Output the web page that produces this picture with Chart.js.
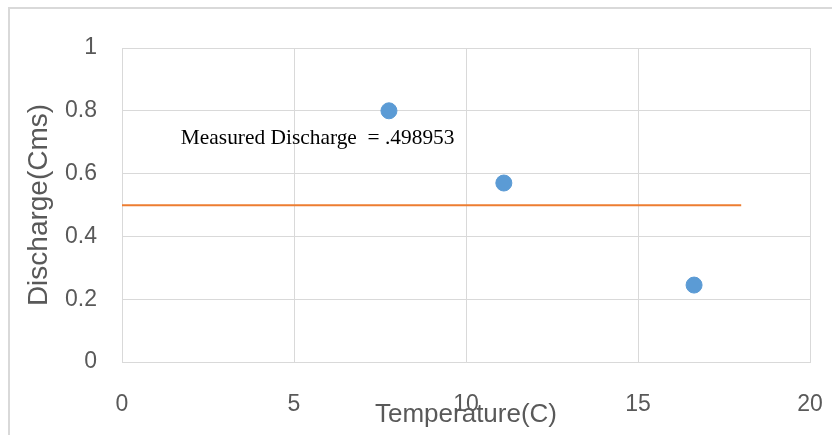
<!DOCTYPE html>
<html>
<head>
<meta charset="utf-8">
<script src="https://cdn.jsdelivr.net/npm/chart.js@4/dist/chart.umd.min.js"></script>
<style>
  html, body { margin: 0; padding: 0; background: #ffffff; }
  #wrap { width: 832px; height: 435px; }
</style>
</head>
<body>
<div id="wrap"><canvas id="c" width="832" height="435"></canvas></div>
<script>
// ---- data ----
const temperatures = [7.76, 11.1, 16.63];
const discharges = [0.80, 0.57, 0.245];
const measuredDischarge = 0.498953;
const measuredLineX = [0, 18];
const xTickValues = [0, 5, 10, 15, 20];
const yTickValues = [0, 0.2, 0.4, 0.6, 0.8, 1];
const xTitle = 'Temperature(C)';
const yTitle = 'Discharge(Cms)';
const annotationText = 'Measured Discharge  = .498953';
const annotationPos = { x: 1.71, y: 0.713 };

const pointData = temperatures.map((t, i) => ({ x: t, y: discharges[i] }));
const lineData = measuredLineX.map(x => ({ x: x, y: measuredDischarge }));

const gridColor = '#d9d9d9';
const tickColor = '#595959';

const framePlugin = {
  id: 'frame',
  beforeDraw(chart) {
    const ctx = chart.ctx;
    ctx.save();
    ctx.fillStyle = '#ffffff';
    ctx.fillRect(0, 0, chart.width, chart.height);
    ctx.strokeStyle = '#d9d9d9';
    ctx.lineWidth = 2;
    ctx.beginPath();
    ctx.moveTo(9, 440);
    ctx.lineTo(9, 8);
    ctx.lineTo(840, 8);
    ctx.stroke();
    ctx.restore();
  }
};

const annotationPlugin = {
  id: 'annot',
  afterDatasetsDraw(chart) {
    const ctx = chart.ctx;
    const xs = chart.scales.x, ys = chart.scales.y;
    ctx.save();
    ctx.fillStyle = '#000000';
    ctx.font = '21.4px "Liberation Serif", "Times New Roman", serif';
    ctx.textAlign = 'left';
    ctx.textBaseline = 'middle';
    ctx.fillText(annotationText, xs.getPixelForValue(annotationPos.x), ys.getPixelForValue(annotationPos.y));
    ctx.restore();
  }
};

new Chart(document.getElementById('c'), {
  type: 'scatter',
  data: {
    datasets: [
      {
        type: 'line',
        label: 'Measured',
        data: lineData,
        borderColor: '#ED7D31',
        borderWidth: 2,
        pointRadius: 0,
        fill: false,
        order: 2
      },
      {
        label: 'Discharge',
        data: pointData,
        backgroundColor: '#5B9BD5',
        borderColor: '#5B9BD5',
        pointRadius: 8,
        pointHoverRadius: 8,
        order: 1
      }
    ]
  },
  options: {
    responsive: false,
    animation: false,
    events: [],
    layout: { padding: { top: 48, right: 22, left: 0, bottom: 0 } },
    plugins: {
      legend: { display: false },
      tooltip: { enabled: false }
    },
    scales: {
      x: {
        type: 'linear',
        min: 0, max: 20,
        afterBuildTicks(axis) { axis.ticks = xTickValues.map(v => ({ value: v })); },
        afterFit(axis) { axis.height = 73; axis.paddingLeft = 14; axis.paddingRight = 14; },
        grid: { color: gridColor, drawTicks: false, lineWidth: 1 },
        border: { color: gridColor, width: 1 },
        ticks: { color: tickColor, padding: 29, maxRotation: 0, font: { family: '"Liberation Sans", Arial, sans-serif', size: 23 } },
        title: {
          display: true, text: xTitle, color: tickColor,
          font: { family: '"Liberation Sans", Arial, sans-serif', size: 26 },
          padding: { top: 0, bottom: 5 }
        }
      },
      y: {
        type: 'linear',
        min: 0, max: 1,
        afterBuildTicks(axis) { axis.ticks = yTickValues.map(v => ({ value: v })); },
        afterFit(axis) { axis.width = 122; },
        grid: { color: gridColor, drawTicks: false, lineWidth: 1 },
        border: { color: gridColor, width: 1 },
        ticks: {
          color: tickColor, padding: 25,
          font: { family: '"Liberation Sans", Arial, sans-serif', size: 23 },
          callback: (v) => String(Math.round(v * 10) / 10)
        },
        title: {
          display: true, text: yTitle, color: tickColor,
          font: { family: '"Liberation Sans", Arial, sans-serif', size: 28 },
          padding: { top: 22, bottom: 0 }
        }
      }
    }
  },
  plugins: [framePlugin, annotationPlugin]
});
</script>
</body>
</html>
